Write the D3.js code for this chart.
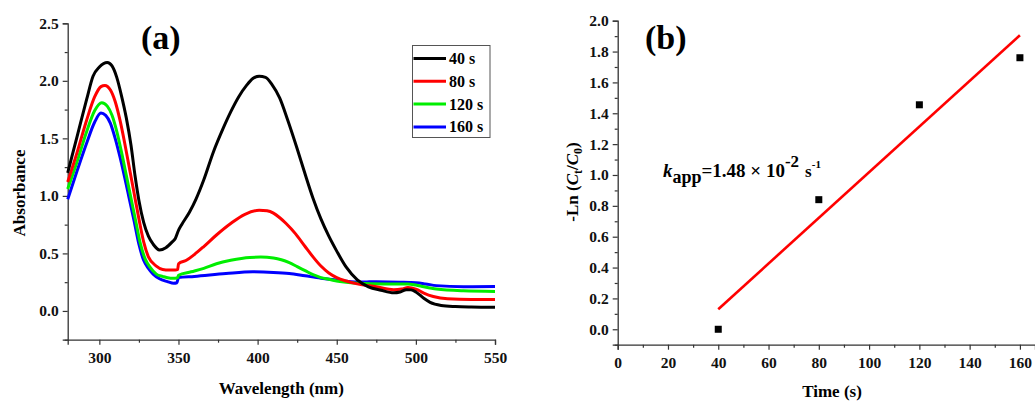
<!DOCTYPE html>
<html><head><meta charset="utf-8">
<script src="https://cdn.jsdelivr.net/npm/d3@7"></script>
<style>
html,body{margin:0;padding:0;background:#fff;}
svg{display:block;font-family:"Liberation Serif","Times New Roman",serif;font-weight:bold;}
</style></head>
<body><svg id="c" width="1035" height="401"></svg>
<script>
// ---------- Panel (a) data: UV-vis spectra ----------
const seriesLabels = ["40 s","80 s","120 s","160 s"];
const seriesColors = ["#000000","#ff0000","#00ee00","#0000ff"];
const wl40  = [280,286,292,296,300,305,308,311,314,317,320,322.6,325,328,331,334,338,342,346,348,350,352,357,361,366,372,378,383,388,393,397,401,405,409,414,419,425,430,435,440,445,450,456,463,470,478,486,490,494,497,500,505,509,516,525,535,550];
const ab40  = [1.20,1.52,1.84,2.04,2.12,2.16,2.13,2.03,1.87,1.68,1.44,1.17,0.96,0.77,0.65,0.58,0.53,0.55,0.60,0.63,0.70,0.75,0.86,0.97,1.14,1.38,1.58,1.73,1.86,1.96,2.02,2.04,2.03,1.97,1.85,1.66,1.41,1.19,0.98,0.80,0.65,0.52,0.38,0.27,0.21,0.18,0.158,0.165,0.185,0.183,0.165,0.11,0.075,0.048,0.038,0.034,0.032];
const wl80  = [280,286,292,297,301,303.5,307,310,313,316,319,322,325,328,331,336,340,344,348,349.5,350,355,360,366,374,383,392,401,406,410,414,418,424,430,435,440,445,450,456,463,475,486,491,495,500,505,511,520,535,550];
const ab80  = [1.12,1.38,1.66,1.86,1.95,1.96,1.92,1.82,1.66,1.46,1.24,1.02,0.80,0.60,0.47,0.39,0.36,0.355,0.355,0.36,0.41,0.44,0.49,0.56,0.66,0.76,0.84,0.875,0.87,0.85,0.81,0.76,0.67,0.56,0.47,0.39,0.33,0.29,0.26,0.235,0.21,0.185,0.19,0.203,0.19,0.155,0.125,0.105,0.10,0.10];
const wl120 = [280,286,292,297,301.5,305,308,311,314,317,320,323,326,329,332,336,340,345,348,349.5,350,358,366,374,383,395,402,410,415,420,425,430,435,440,445,452,463,480,495,500,505,513,530,550];
const ab120 = [1.06,1.30,1.56,1.74,1.81,1.78,1.70,1.56,1.38,1.18,0.98,0.78,0.58,0.45,0.38,0.32,0.30,0.285,0.285,0.29,0.31,0.34,0.37,0.41,0.44,0.465,0.468,0.46,0.445,0.42,0.385,0.35,0.315,0.29,0.275,0.255,0.24,0.235,0.235,0.225,0.21,0.19,0.175,0.17];
const wl160 = [280,286,292,297,301,304,307,310,313,316,319,322,325,328,331,334,338,343,347,349,350,360,380,397,410,420,430,440,450,463,475,490,500,506,513,530,550];
const ab160 = [0.97,1.22,1.46,1.64,1.72,1.70,1.63,1.50,1.34,1.16,0.97,0.78,0.58,0.44,0.37,0.32,0.28,0.255,0.24,0.245,0.29,0.30,0.325,0.34,0.335,0.325,0.305,0.285,0.268,0.252,0.253,0.25,0.245,0.235,0.22,0.21,0.212];
const xTicksA = [300,350,400,450,500,550];
const yTicksA = [0.0,0.5,1.0,1.5,2.0,2.5];

// ---------- Panel (b) data: kinetics ----------
const timePts = [40,80,120,160];
const lnPts   = [0.00,0.84,1.455,1.76];
const fitX    = [40,160];
const fitSlope = 0.0148;
const fitIntercept = -0.462;
const xTicksB = [0,20,40,60,80,100,120,140,160];
const yTicksB = [0.0,0.2,0.4,0.6,0.8,1.0,1.2,1.4,1.6,1.8,2.0];

const svg = d3.select("#c");
const axisColor = "#333";
const FS = 15.5;

function styleAxis(g){
  g.select(".domain").attr("stroke",axisColor).attr("stroke-width",1.3);
  g.selectAll(".tick line").attr("stroke",axisColor).attr("stroke-width",1.2);
  g.selectAll(".tick text").attr("fill","#111").attr("font-size",FS).attr("font-family","Liberation Serif").attr("font-weight","bold");
}

// ===== Panel (a) =====
const xA = d3.scaleLinear().domain([280,550]).range([67.7,495]);
const yA = d3.scaleLinear().domain([-0.25,2.5]).range([339.7,23.3]);
const gxA = svg.append("g").attr("transform",`translate(0,${yA(-0.25)})`)
  .call(d3.axisBottom(xA).tickValues(xTicksA).tickSize(5).tickPadding(7).tickFormat(d3.format("d")));
styleAxis(gxA);
const gxAm = svg.append("g").attr("transform",`translate(0,${yA(-0.25)})`)
  .call(d3.axisBottom(xA).tickValues(d3.range(325,550,50)).tickSize(3).tickFormat(""));
styleAxis(gxAm); gxAm.select(".domain").remove();
const gyA = svg.append("g").attr("transform",`translate(${xA(280)},0)`)
  .call(d3.axisLeft(yA).tickValues(yTicksA).tickSize(5).tickPadding(4).tickFormat(d3.format(".1f")));
styleAxis(gyA);
const gyAm = svg.append("g").attr("transform",`translate(${xA(280)},0)`)
  .call(d3.axisLeft(yA).tickValues([-0.25,0.25,0.75,1.25,1.75,2.25]).tickSize(3).tickFormat(""));
styleAxis(gyAm); gyAm.select(".domain").remove();

const specs = [[wl40,ab40],[wl80,ab80],[wl120,ab120],[wl160,ab160]];
const lineA = d3.line().x(d=>xA(d[0])).y(d=>yA(d[1])).curve(d3.curveMonotoneX);
for (let i=specs.length-1;i>=0;i--){
  const pts = specs[i][0].map((w,j)=>[w,specs[i][1][j]]);
  svg.append("path").datum(pts).attr("d",lineA).attr("fill","none")
    .attr("stroke",seriesColors[i]).attr("stroke-width",3).attr("stroke-linejoin","round");
}

svg.append("text").attr("x",141).attr("y",49).attr("font-size",34).text("(a)");
svg.append("text").attr("x",xA(415)).attr("y",394).attr("text-anchor","middle").attr("font-size",17).text("Wavelength (nm)");
svg.append("text").attr("transform","translate(25,193) rotate(-90)").attr("text-anchor","middle").attr("font-size",17).text("Absorbance");

// legend
const lg = svg.append("g");
lg.append("rect").attr("x",412.5).attr("y",45.5).attr("width",77.5).attr("height",92)
  .attr("fill","#fff").attr("stroke","#555").attr("stroke-width",1);
seriesLabels.forEach((s,i)=>{
  const cy = 58.5 + i*22.8;
  lg.append("line").attr("x1",413.5).attr("x2",446).attr("y1",cy).attr("y2",cy)
    .attr("stroke",seriesColors[i]).attr("stroke-width",3);
  lg.append("text").attr("x",449).attr("y",cy+5.5).attr("font-size",16).text(s);
});

// ===== Panel (b) =====
const xB = d3.scaleLinear().domain([0,166]).range([617.7,1035]);
const yB = d3.scaleLinear().domain([-0.1,2.0]).range([344.7,20.7]);
const gxB = svg.append("g").attr("transform",`translate(0,${yB(-0.1)})`)
  .call(d3.axisBottom(xB).tickValues(xTicksB).tickSize(5).tickPadding(7.5).tickFormat(d3.format("d")));
styleAxis(gxB);
const gxBm = svg.append("g").attr("transform",`translate(0,${yB(-0.1)})`)
  .call(d3.axisBottom(xB).tickValues(d3.range(10,166,20)).tickSize(3).tickFormat(""));
styleAxis(gxBm); gxBm.select(".domain").remove();
const gyB = svg.append("g").attr("transform",`translate(${xB(0)},0)`)
  .call(d3.axisLeft(yB).tickValues(yTicksB).tickSize(5).tickPadding(4).tickFormat(d3.format(".1f")));
styleAxis(gyB);
const gyBm = svg.append("g").attr("transform",`translate(${xB(0)},0)`)
  .call(d3.axisLeft(yB).tickValues(d3.range(-0.1,2.0,0.2)).tickSize(3).tickFormat(""));
styleAxis(gyBm); gyBm.select(".domain").remove();

const fitPts = fitX.map(t=>[t, fitSlope*t + fitIntercept]);
svg.append("path").datum(fitPts).attr("d",d3.line().x(d=>xB(d[0])).y(d=>yB(d[1])))
  .attr("stroke","#ff0000").attr("stroke-width",2.6).attr("fill","none");
svg.selectAll("rect.pt").data(timePts.map((t,i)=>[t,lnPts[i]])).enter().append("rect")
  .attr("class","pt").attr("x",d=>xB(d[0])-3.5).attr("y",d=>yB(d[1])-3.5)
  .attr("width",7).attr("height",7).attr("fill","#000");

svg.append("text").attr("x",645).attr("y",49).attr("font-size",34).text("(b)");
svg.append("text").attr("x",832).attr("y",397).attr("text-anchor","middle").attr("font-size",17).text("Time (s)");

const yl = svg.append("text").attr("transform","translate(578,182) rotate(-90)").attr("text-anchor","middle").attr("font-size",17);
yl.append("tspan").text("-Ln (");
yl.append("tspan").attr("font-style","italic").text("C");
yl.append("tspan").attr("font-size",12).attr("dy",4).text("t");
yl.append("tspan").attr("dy",-4).text("/");
yl.append("tspan").attr("font-style","italic").text("C");
yl.append("tspan").attr("font-size",12).attr("dy",4).text("0");
yl.append("tspan").attr("dy",-4).text(")");

const ann = svg.append("text").attr("x",663).attr("y",177).attr("font-size",19);
ann.append("tspan").attr("font-style","italic").text("k");
ann.append("tspan").attr("dy",6).attr("font-size",18).text("app");
ann.append("tspan").attr("dy",-6).text("=1.48 × 10");
ann.append("tspan").attr("dy",-10).attr("font-size",17).text("-2");
ann.append("tspan").attr("dy",10).attr("dx",6).attr("font-size",17).text("s");
ann.append("tspan").attr("dy",-9).attr("font-size",11).text("-1");
</script></body></html>
